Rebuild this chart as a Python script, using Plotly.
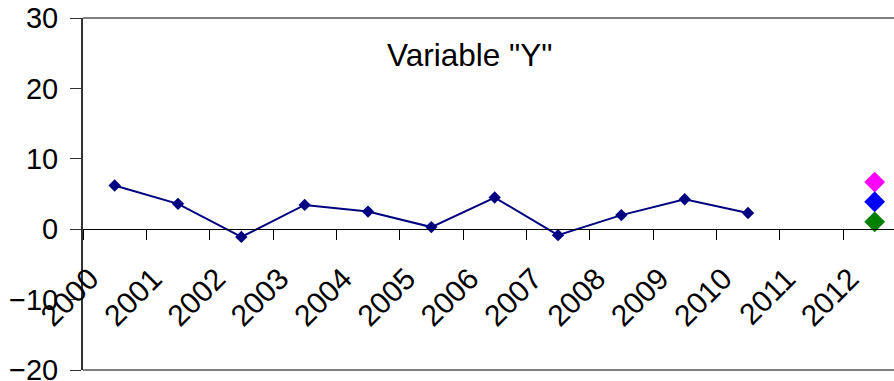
import plotly.graph_objects as go

# Category labels (one per year slot on the axis)
years = ["2000", "2001", "2002", "2003", "2004", "2005", "2006",
         "2007", "2008", "2009", "2010", "2011", "2012"]

# Observed values of variable Y, 2000-2010
obs_years = years[:11]
obs_values = [6.2, 3.6, -1.1, 3.45, 2.5, 0.3, 4.5, -0.85, 2.0, 4.25, 2.3]

# Three alternative values for 2012
alt_year = "2012"
alt_values = [6.7, 3.9, 1.05]
alt_colors = ["#FF00FF", "#0000FF", "#008000"]

y_ticks = [-20, -10, 0, 10, 20, 30]

FONT = "Liberation Sans, Arial, sans-serif"

pos = {y: i for i, y in enumerate(years)}
x_range = [-0.5, 12.305]

fig = go.Figure()

fig.add_trace(go.Scatter(
    x=[pos[y] for y in obs_years], y=obs_values,
    mode="lines+markers",
    line=dict(color="#000080", width=2),
    marker=dict(symbol="diamond", size=9.5, color="#000080"),
    showlegend=False,
))

for v, c in zip(alt_values, alt_colors):
    fig.add_trace(go.Scatter(
        x=[pos[alt_year]], y=[v],
        mode="markers",
        marker=dict(symbol="diamond", size=16, color=c),
        showlegend=False,
    ))

# invisible trace to activate the label axis
fig.add_trace(go.Scatter(x=[0], y=[0], xaxis="x2", mode="markers",
                         marker=dict(opacity=0), showlegend=False,
                         hoverinfo="skip"))

fig.update_layout(
    width=894, height=381,
    margin=dict(l=83, r=0, t=18, b=11, autoexpand=False),
    paper_bgcolor="white", plot_bgcolor="white",
    font=dict(family=FONT, color="black"),
    xaxis=dict(
        range=x_range, anchor="free", position=0.4, automargin=False,
        tickmode="array", tickvals=[i - 0.5 for i in range(len(years))],
        showticklabels=False,
        ticks="outside", ticklen=10, tickcolor="#000000", tickwidth=1,
        showline=True, linecolor="#000000", linewidth=1,
        showgrid=False, zeroline=False,
    ),
    xaxis2=dict(
        range=x_range, overlaying="x", anchor="free", position=0.4,
        automargin=False,
        tickmode="array", tickvals=[i - 0.39 for i in range(len(years))],
        ticktext=years, tickangle=-45,
        tickfont=dict(size=30, family=FONT, color="black"),
        ticks="", showline=False, showgrid=False, zeroline=False,
        ticklabelstandoff=25, ticklabeloverflow="allow",
    ),
    yaxis=dict(
        range=[-20, 30], tickmode="array", tickvals=y_ticks, automargin=False,
        tickfont=dict(size=29, family=FONT, color="black"),
        ticks="outside", ticklen=11, tickcolor="#333333", tickwidth=1,
        showline=True, linecolor="#333333", linewidth=2,
        showgrid=False, zeroline=False, ticklabelstandoff=6,
        ticklabeloverflow="allow",
    ),
    shapes=[
        dict(type="line", xref="paper", yref="paper", x0=0, x1=1, y0=1, y1=1,
             line=dict(color="#808080", width=2)),
        dict(type="line", xref="paper", yref="paper", x0=0, x1=1, y0=0, y1=0,
             line=dict(color="#808080", width=2)),
    ],
    annotations=[dict(
        text='Variable "Y"', xref="paper", yref="paper",
        x=0.477, y=0.895, xanchor="center", yanchor="middle",
        showarrow=False, font=dict(size=31.5, family=FONT, color="black"),
    )],
)

fig.write_html("out.html")
